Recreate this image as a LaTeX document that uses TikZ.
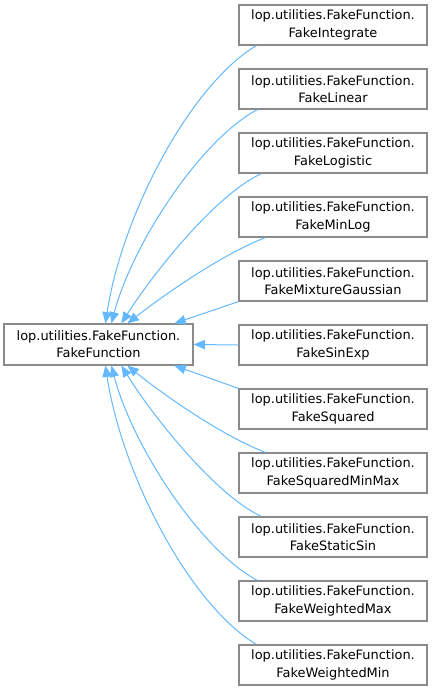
\documentclass[tikz,border=0pt]{standalone}
\usepackage{fontspec}
\setmainfont{DejaVu Sans}
\usetikzlibrary{arrows.meta,calc}
\definecolor{edgeblue}{HTML}{63B8FF}
\definecolor{boxgray}{HTML}{8A8A8A}
\begin{document}
\begin{tikzpicture}[x=0.75pt,y=-0.75pt,
  cls/.style={draw=boxgray,line width=0.9pt,rectangle,minimum width=141pt,minimum height=30pt,
    inner sep=0pt,align=center,font=\fontsize{9.7}{13}\selectfont},
  inh/.style={draw=edgeblue,line width=0.75pt,{Triangle[length=8.5pt,width=7pt,fill=edgeblue]}-}]
\useasboundingbox (0,0) rectangle (432,691);
\node[cls,minimum height=30.75pt,minimum width=141.75pt] (p) at (98.5,344.5) {lop.utilities.FakeFunction.\\FakeFunction};
\node[cls] (c1) at (333,25) {lop.utilities.FakeFunction.\\FakeIntegrate};
\node[cls] (c2) at (333,89) {lop.utilities.FakeFunction.\\FakeLinear};
\node[cls] (c3) at (333,153) {lop.utilities.FakeFunction.\\FakeLogistic};
\node[cls] (c4) at (333,217) {lop.utilities.FakeFunction.\\FakeMinLog};
\node[cls] (c5) at (333,281) {lop.utilities.FakeFunction.\\FakeMixtureGaussian};
\node[cls] (c6) at (333,345) {lop.utilities.FakeFunction.\\FakeSinExp};
\node[cls] (c7) at (333,409) {lop.utilities.FakeFunction.\\FakeSquared};
\node[cls] (c8) at (333,473) {lop.utilities.FakeFunction.\\FakeSquaredMinMax};
\node[cls] (c9) at (333,537) {lop.utilities.FakeFunction.\\FakeStaticSin};
\node[cls] (c10) at (333,601) {lop.utilities.FakeFunction.\\FakeWeightedMax};
\node[cls] (c11) at (333,665) {lop.utilities.FakeFunction.\\FakeWeightedMin};
% upper edges
\draw[inh] ($(p.north west)+(102,0)$) .. controls (122,215) and (190,85) .. ($(c1.south west)+(18,0)$);
\draw[inh] ($(p.north west)+(108,0)$) .. controls (132,245) and (200,140) .. ($(c2.south west)+(19,0)$);
\draw[inh] ($(p.north west)+(118,0)$) .. controls (152,275) and (215,195) .. ($(c3.south west)+(23,0)$);
\draw[inh] ($(p.north west)+(124,0)$) .. controls (160,298) and (220,255) .. ($(c4.south west)+(27,0)$);
\draw[inh] ($(p.north west)+(171,0)$) -- (c5.south west);
\draw[inh] (p.east) -- (c6.west);
% lower edges
\draw[inh] ($(p.south west)+(171,0)$) -- (c7.north west);
\draw[inh] ($(p.south west)+(124,0)$) .. controls (160,392) and (220,435) .. ($(c8.north west)+(27,0)$);
\draw[inh] ($(p.south west)+(118,0)$) .. controls (152,415) and (215,495) .. ($(c9.north west)+(23,0)$);
\draw[inh] ($(p.south west)+(108,0)$) .. controls (132,445) and (200,550) .. ($(c10.north west)+(19,0)$);
\draw[inh] ($(p.south west)+(102,0)$) .. controls (122,475) and (190,605) .. ($(c11.north west)+(18,0)$);
\end{tikzpicture}
\end{document}
